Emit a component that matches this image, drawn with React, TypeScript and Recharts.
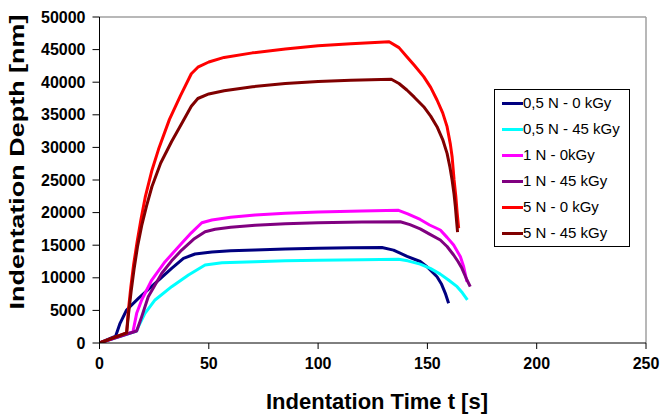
import React from 'react';
import { LineChart, Line, XAxis, YAxis, Legend, ReferenceLine } from 'recharts';

const xTicks = [0, 50, 100, 150, 200, 250];
const yTicks = [0, 5000, 10000, 15000, 20000, 25000, 30000, 35000, 40000, 45000, 50000];

const seriesNames = [
  '0,5 N - 0 kGy',
  '0,5 N - 45 kGy',
  '1 N - 0kGy',
  '1 N - 45 kGy',
  '5 N - 0 kGy',
  '5 N - 45 kGy',
];

// [time s, depth nm]
const n05_0kGy: number[][] = [
  [0, 0], [7.4, 1070], [9.4, 3020], [12.4, 5060], [17.8, 6850], [25.4, 9150], [33, 11460],
  [38.4, 12990], [43.7, 13650], [51.4, 13950], [60, 14150], [71.2, 14280], [85, 14420],
  [100, 14520], [115, 14600], [129.2, 14650], [134.5, 14250], [140.7, 13300], [146.7, 12500],
  [149.8, 11700], [154.4, 10170], [156.5, 9000], [158.2, 7620], [159.7, 6090],
];

const n05_45kGy: number[][] = [
  [0, 0], [17, 1840], [17.8, 2500], [20.8, 4550], [25.4, 6600], [33, 8640], [40.7, 10430],
  [48.3, 11960], [56, 12320], [71.2, 12470], [85, 12600], [100, 12700], [120, 12780],
  [136.8, 12830], [141, 12600], [146.7, 12100], [151.3, 11450], [155.9, 10560], [159.5, 9700],
  [163.6, 8640], [166, 7700], [168.3, 6600],
];

const n1_0kGy: number[][] = [
  [0, 0], [15.3, 1700], [17, 4550], [19.3, 6600], [23.9, 9660], [30, 12470], [37.6, 15290],
  [42, 16900], [46.8, 18450], [51.4, 18870], [60, 19300], [71.2, 19630], [85, 19900],
  [100, 20100], [120, 20250], [136.8, 20350], [141, 19800], [146.7, 18950], [151, 18100],
  [155.9, 17330], [159, 16200], [162, 15030], [165.1, 13240], [166.6, 11700], [168.1, 9400],
];

const n1_45kGy: number[][] = [
  [0, 0], [17, 1840], [19.3, 4040], [22.3, 7100], [28.5, 10690], [33, 12600], [37.6, 14260],
  [43, 15900], [48.3, 17070], [52.9, 17440], [60, 17750], [71.2, 18050], [85, 18300],
  [100, 18450], [120, 18550], [137.6, 18600], [142, 18150], [146.7, 17500], [151, 16700],
  [155.9, 15800], [159, 14800], [162, 13500], [164, 12500], [165.8, 11450], [167, 10500],
  [168.1, 9660], [169.6, 8640],
];

const n5_0kGy: number[][] = [
  [0, 0], [12.4, 1550], [13.2, 5000], [14.3, 8500], [15.6, 12000], [17.2, 15500], [19, 19000],
  [21, 22500], [24, 26500], [27, 29700], [32, 34300], [37, 37900], [42, 41300], [45, 42300],
  [50, 43100], [57, 43800], [70, 44500], [85, 45100], [100, 45600], [115, 45900], [132.5, 46200],
  [137, 45300], [140.6, 43900], [144, 42600], [148.3, 40850], [151.5, 39200], [154.4, 37270],
  [157, 35300], [159, 33180], [160.5, 30500], [161.3, 28570], [162.2, 25000], [163, 22500],
  [163.6, 20000], [164.3, 17600],
];

const n5_45kGy: number[][] = [
  [0, 0], [12.4, 1550], [13.3, 4500], [14.5, 8000], [15.8, 11300], [17.4, 14800], [19.3, 18000],
  [21.5, 21000], [24, 24000], [28, 27600], [33, 30900], [38, 33900], [42, 36300], [45, 37500],
  [50, 38200], [57, 38700], [70, 39300], [85, 39800], [100, 40100], [115, 40300], [133.5, 40450],
  [137, 39800], [140.6, 38800], [144, 37700], [148.3, 36240], [151.5, 34800], [154.4, 33180],
  [157, 31200], [159, 29090], [160.3, 27000], [161.3, 25000], [162.2, 22800], [162.8, 20900],
  [163.4, 18500], [163.8, 17000],
];

const seriesValues = [n05_0kGy, n05_45kGy, n1_0kGy, n1_45kGy, n5_0kGy, n5_45kGy];
const colors = ['#000080', '#00FFFF', '#FF00FF', '#800080', '#FF0000', '#800000'];

const FONT = '"Liberation Sans", Arial, sans-serif';

const series = seriesNames.map((name, i) => ({
  name,
  color: colors[i],
  data: seriesValues[i].map(([t, v]) => ({ t, v })),
}));

const renderLegend = () => (
  <div
    style={{
      border: '1px solid #000',
      width: 136,
      height: 158,
      boxSizing: 'border-box',
      background: '#fff',
      fontFamily: FONT,
    }}
  >
    {series.map((s) => (
      <div key={s.name} style={{ display: 'flex', alignItems: 'center', height: 26 }}>
        <div style={{ width: 21, height: 3, background: s.color, marginLeft: 7 }} />
        <span style={{ fontSize: 15, color: '#000', whiteSpace: 'nowrap', lineHeight: '26px' }}>{s.name}</span>
      </div>
    ))}
  </div>
);

const YTitle = () => (
  <text
    x={0}
    y={0}
    transform="translate(24,162) rotate(-90)"
    textAnchor="middle"
    fontSize={20}
    fontWeight="bold"
    fontFamily={FONT}
    fill="#000"
    textLength={295}
    lengthAdjust="spacingAndGlyphs"
  >
    Indentation Depth [nm]
  </text>
);

const XTitle = () => (
  <text x={377} y={409} textAnchor="middle" fontSize={22} fontWeight="bold" fontFamily={FONT} fill="#000">
    Indentation Time t [s]
  </text>
);

export default function App() {
  const tickStyle = { fill: '#000', fontSize: 16, fontWeight: 'bold', fontFamily: FONT };
  return (
    <div style={{ position: 'absolute', left: 0, top: 0, width: 661, height: 416, background: '#fff' }}>
      <LineChart width={661} height={416} margin={{ top: 17, right: 15, bottom: 13, left: 39.5 }}>
        <XAxis
          type="number"
          dataKey="t"
          domain={[0, 250]}
          ticks={xTicks}
          allowDataOverflow
          height={60}
          tickSize={6}
          tickMargin={9}
          stroke="#000"
          tick={tickStyle}
          label={{ content: XTitle }}
        />
        <YAxis
          type="number"
          dataKey="v"
          domain={[0, 50000]}
          ticks={yTicks}
          allowDataOverflow
          width={60}
          tickSize={7}
          tickMargin={7}
          stroke="#000"
          tick={tickStyle}
          label={{ content: YTitle }}
        />
        <ReferenceLine y={50000} stroke="#a0a0a0" strokeWidth={1.5} />
        <ReferenceLine x={250} stroke="#a0a0a0" strokeWidth={1.5} />
        {series.map((s) => (
          <Line
            key={s.name}
            data={s.data}
            dataKey="v"
            name={s.name}
            type="linear"
            stroke={s.color}
            strokeWidth={3}
            strokeLinejoin="round"
            dot={false}
            activeDot={false}
            isAnimationActive={false}
          />
        ))}
        <Legend
          layout="vertical"
          align="center"
          verticalAlign="middle"
          content={renderLegend}
          wrapperStyle={{ left: 494, top: 89, width: 136, height: 158 }}
        />
      </LineChart>
    </div>
  );
}
